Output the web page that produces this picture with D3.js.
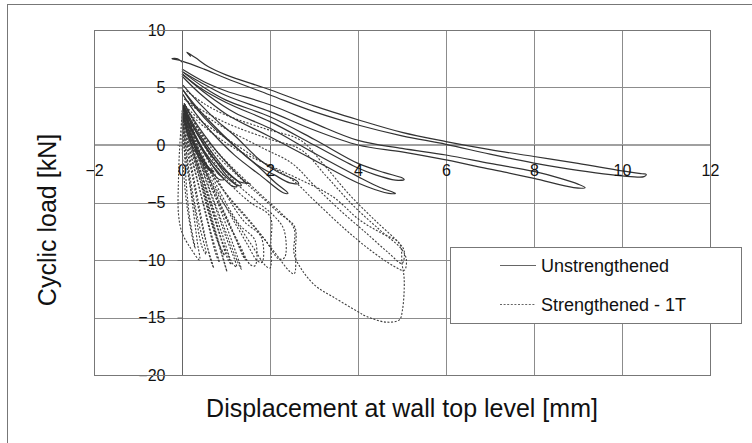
<!DOCTYPE html>
<html>
<head>
<meta charset="utf-8">
<script src="https://cdn.jsdelivr.net/npm/d3@7"></script>
<style>
  html, body { margin: 0; padding: 0; background: #fff; }
  svg { display: block; font-family: "Liberation Sans", Arial, sans-serif; }
</style>
</head>
<body>
<svg id="chart" width="752" height="443"></svg>
<script>
// Axis ticks
const xTicks = [-2, 0, 2, 4, 6, 8, 10, 12];
const yTicks = [-20, -15, -10, -5, 0, 5, 10];
const seriesNames = ["Unstrengthened", "Strengthened - 1T"];
const xTitle = "Displacement at wall top level [mm]";
const yTitle = "Cyclic load [kN]";

// Unstrengthened wall: load cycles, [displacement mm, load kN]
const unstrengthenedCycles = [
  [[0.2,7.7],[0.11,8.06],[0.3,7.6],[0.6,6.8],[1.0,6.1],[2.0,4.8],[3.0,3.4],[4.0,2.2],[5.0,1.1],[6.0,0.3],[7.0,-0.4],[8.0,-1.0],[9.0,-1.6],[10.0,-2.25],[10.45,-2.5],[10.55,-2.55],[10.5,-2.75],[10.2,-2.75],[9.0,-2.2],[8.0,-1.57],[7.0,-0.8],[6.0,0.06],[5.0,0.8],[4.0,1.74],[3.0,2.9],[2.0,4.35],[1.0,5.8],[0.5,6.6],[0.0,7.3],[-0.23,7.5],[-0.1,7.5],[0.0,7.2]],
  [[0.0,6.6],[0.5,5.5],[1.0,4.7],[2.0,3.5],[3.0,1.9],[4.0,0.4],[5.0,-0.3],[6.0,-0.87],[7.0,-1.6],[8.0,-2.3],[8.6,-2.9],[9.0,-3.4],[9.16,-3.7],[8.9,-3.7],[8.0,-2.9],[7.0,-2.1],[6.0,-1.3],[5.0,-0.6],[4.0,0.0],[3.0,1.3],[2.0,2.9],[1.0,4.3],[0.4,5.5],[0.0,6.4]],
  [[0.0,6.4],[0.5,5.0],[1.0,3.9],[2.0,2.46],[3.0,0.5],[4.0,-1.6],[4.6,-2.4],[5.0,-2.85],[5.05,-3.0],[4.85,-3.05],[4.4,-2.6],[4.0,-2.0],[3.0,0.0],[2.0,2.03],[1.0,3.7],[0.4,5.0],[0.0,6.2]],
  [[0.0,6.2],[0.6,4.3],[1.2,2.8],[2.0,1.45],[3.0,-0.7],[4.0,-2.75],[4.5,-3.7],[4.85,-4.2],[4.7,-4.2],[4.0,-3.3],[3.0,-1.3],[2.0,0.72],[1.0,2.7],[0.4,4.5],[0.0,6.0]],
  [[0.02,5.2],[0.4,3.6],[0.8,2.1],[1.2,0.8],[1.77,-1.3],[2.2,-2.4],[2.6,-3.1],[2.65,-3.35],[2.45,-3.3],[2.1,-2.6],[1.77,-1.9],[1.2,-0.1],[0.7,1.6],[0.3,3.3],[0.02,4.8]],
  [[0.02,4.8],[0.4,3.0],[0.9,1.0],[1.4,-0.8],[1.77,-2.0],[2.1,-3.2],[2.41,-4.2],[2.3,-4.15],[1.77,-2.6],[1.2,-0.9],[0.7,1.0],[0.3,2.8],[0.02,4.4]],
  [[0.05,3.6],[0.25,2.3],[0.5,0.9],[0.8,-0.6],[1.1,-1.9],[1.35,-2.9],[1.47,-3.3],[1.55,-3.35],[1.3,-3.2],[1.0,-2.3],[0.7,-1.1],[0.4,0.6],[0.15,2.3],[0.02,3.4]],
  [[0.02,3.5],[0.2,2.2],[0.45,0.6],[0.75,-1.0],[1.05,-2.4],[1.35,-3.5],[1.25,-3.5],[0.95,-2.6],[0.65,-1.3],[0.35,0.4],[0.12,2.1],[0.02,3.3]],
  [[0.02,3.4],[0.2,2.0],[0.45,0.4],[0.75,-1.3],[1.0,-2.6],[1.25,-3.6],[1.15,-3.6],[0.85,-2.5],[0.55,-1.0],[0.3,0.7],[0.1,2.2],[0.02,3.2]],
  [[0.02,3.2],[0.15,2.0],[0.35,0.5],[0.6,-1.2],[0.8,-2.4],[0.95,-3.0],[0.85,-3.0],[0.6,-2.0],[0.35,-0.6],[0.15,1.0],[0.02,2.6]],
  [[0.02,2.8],[0.12,1.6],[0.28,0.2],[0.45,-1.0],[0.62,-2.0],[0.72,-2.3],[0.62,-2.2],[0.45,-1.4],[0.25,-0.2],[0.1,1.2],[0.02,2.5]]
];

// Strengthened wall (1T): load cycles, [displacement mm, load kN]
const strengthenedCycles = [
  [[0.0,2.5],[-0.05,0.0],[-0.08,-3.0],[-0.08,-6.0],[0.0,-7.6],[0.2,-9.0],[0.4,-10.0],[0.35,-8.5],[0.25,-5.5],[0.15,-2.5],[0.05,0.5],[0.0,2.5]],
  [[0.02,3.0],[0.05,0.0],[0.1,-3.5],[0.18,-6.5],[0.3,-9.0],[0.25,-8.3],[0.12,-5.5],[0.04,-2.5],[0.0,0.5],[0.02,3.0]],
  [[0.0,2.8],[0.08,0.0],[0.2,-3.2],[0.35,-6.3],[0.55,-9.5],[0.45,-8.8],[0.3,-5.8],[0.15,-2.8],[0.03,0.3],[0.0,2.8]],
  [[0.0,3.0],[0.1,0.0],[0.25,-3.0],[0.4,-6.0],[0.55,-8.5],[0.72,-10.7],[0.65,-10.0],[0.5,-7.5],[0.35,-4.5],[0.2,-1.5],[0.05,1.5],[0.0,3.0]],
  [[0.02,3.1],[0.15,0.2],[0.35,-3.0],[0.55,-6.0],[0.7,-8.2],[0.85,-10.2],[0.78,-9.6],[0.6,-7.0],[0.42,-4.2],[0.22,-1.2],[0.05,1.6],[0.02,3.1]],
  [[0.05,3.3],[0.2,0.3],[0.4,-2.9],[0.6,-5.9],[0.8,-8.3],[0.97,-9.6],[0.9,-9.2],[0.7,-6.9],[0.48,-4.0],[0.25,-1.0],[0.08,1.8],[0.05,3.3]],
  [[0.05,3.2],[0.2,0.5],[0.4,-2.5],[0.6,-5.5],[0.8,-8.2],[1.02,-11.0],[0.95,-10.0],[0.75,-7.3],[0.55,-4.5],[0.3,-1.3],[0.1,1.5],[0.05,3.2]],
  [[0.05,3.3],[0.25,0.4],[0.45,-2.6],[0.7,-5.6],[0.9,-8.2],[1.12,-10.4],[1.05,-10.0],[0.82,-7.4],[0.6,-4.7],[0.35,-1.7],[0.12,1.3],[0.05,3.3]],
  [[0.05,3.3],[0.25,0.5],[0.5,-2.6],[0.75,-5.3],[1.0,-8.0],[1.24,-10.6],[1.15,-10.3],[0.9,-7.6],[0.65,-4.8],[0.4,-2.0],[0.15,1.0],[0.05,3.3]],
  [[0.05,3.4],[0.3,0.4],[0.55,-2.5],[0.85,-5.4],[1.1,-8.0],[1.35,-10.8],[1.28,-10.3],[1.0,-7.6],[0.72,-4.8],[0.45,-1.9],[0.18,1.1],[0.05,3.4]],
  [[0.05,3.4],[0.3,0.6],[0.55,-2.3],[0.85,-5.0],[1.15,-7.6],[1.45,-10.0],[1.38,-9.6],[1.1,-7.0],[0.8,-4.5],[0.5,-1.8],[0.2,1.0],[0.05,3.4]],
  [[0.05,3.5],[0.3,0.8],[0.6,-2.0],[0.95,-4.7],[1.3,-6.9],[1.66,-8.3],[1.66,-10.5],[1.55,-10.4],[1.3,-8.6],[1.0,-6.4],[0.7,-4.0],[0.4,-1.2],[0.15,1.6],[0.05,3.5]],
  [[0.05,3.5],[0.3,0.9],[0.65,-1.8],[1.0,-4.3],[1.4,-6.6],[1.8,-8.0],[1.82,-10.2],[1.72,-10.1],[1.45,-8.4],[1.1,-6.1],[0.75,-3.6],[0.42,-1.0],[0.15,1.8],[0.05,3.5]],
  [[0.05,3.5],[0.35,1.0],[0.7,-1.3],[1.1,-3.4],[1.55,-5.0],[2.0,-6.2],[2.02,-8.5],[2.0,-10.7],[1.9,-10.5],[1.6,-8.8],[1.2,-6.5],[0.8,-4.2],[0.45,-1.6],[0.15,1.3],[0.05,3.5]],
  [[0.05,3.6],[0.4,1.1],[0.75,-1.1],[1.2,-3.2],[1.7,-4.9],[2.1,-6.2],[2.32,-7.4],[2.33,-9.8],[2.2,-9.9],[1.9,-8.3],[1.5,-6.4],[1.0,-4.2],[0.6,-2.0],[0.25,0.8],[0.05,3.6]],
  [[0.05,3.6],[0.4,1.2],[0.8,-0.9],[1.3,-2.8],[1.8,-4.5],[2.2,-5.9],[2.56,-7.1],[2.58,-9.0],[2.55,-11.2],[2.45,-11.0],[2.1,-9.3],[1.7,-7.4],[1.2,-5.2],[0.8,-3.2],[0.4,-0.8],[0.1,2.0],[0.05,3.6]],
  [[0.1,4.7],[0.5,3.6],[1.0,2.6],[1.9,1.4],[2.7,0.4],[3.2,-1.6],[3.8,-4.3],[4.4,-6.6],[4.94,-8.55],[5.05,-9.2],[5.0,-10.3],[4.7,-9.4],[4.2,-7.7],[3.6,-5.7],[3.0,-3.5],[2.5,-1.6],[1.8,-0.2],[1.0,1.4],[0.4,2.9],[0.05,4.0]],
  [[0.05,4.0],[0.6,2.7],[1.2,1.6],[2.0,0.5],[2.7,-0.4],[3.3,-2.8],[3.9,-5.3],[4.5,-7.4],[5.0,-9.1],[5.1,-10.0],[5.05,-10.9],[4.8,-10.5],[4.3,-9.2],[3.7,-7.3],[3.0,-4.8],[2.5,-3.0],[1.8,-1.4],[1.0,0.6],[0.4,2.2],[0.05,3.5]],
  [[0.05,3.6],[0.45,1.0],[0.9,-1.0],[1.4,-2.9],[1.9,-4.7],[2.3,-6.1],[2.55,-7.3],[2.55,-9.5],[2.75,-11.0],[3.05,-12.3],[3.43,-13.2],[4.0,-14.5],[4.19,-14.9],[4.64,-15.4],[4.94,-15.2],[5.01,-14.35],[5.05,-11.7],[5.0,-10.3],[4.94,-8.55],[4.5,-7.6],[4.03,-6.5],[3.43,-4.5],[2.68,-3.0],[2.0,-1.8],[1.2,-0.3],[0.5,1.6],[0.05,3.2]]
];

const W = 752, H = 443;
const svg = d3.select("#chart");

// Outer chart frame
svg.append("rect")
  .attr("x", 7.5).attr("y", 4.5)
  .attr("width", W).attr("height", H)
  .attr("fill", "none").attr("stroke", "#777").attr("stroke-width", 1);

const x = d3.scaleLinear().domain([-2, 12]).range([94, 710]);
const y = d3.scaleLinear().domain([-20, 10]).range([375, 30]);

// Grid
const grid = svg.append("g").attr("stroke", "#8c8c8c").attr("stroke-width", 1);
grid.selectAll("line.vx").data(xTicks).join("line")
  .attr("x1", d => Math.round(x(d)) + 0.5).attr("x2", d => Math.round(x(d)) + 0.5)
  .attr("y1", y(10)).attr("y2", y(-20));
grid.selectAll("line.hy").data(yTicks.filter(d => d !== 0)).join("line")
  .attr("x1", x(-2)).attr("x2", x(12))
  .attr("y1", d => Math.round(y(d)) + 0.5).attr("y2", d => Math.round(y(d)) + 0.5);

// Zero load line
svg.append("line")
  .attr("x1", x(-2)).attr("x2", x(12))
  .attr("y1", y(0)).attr("y2", y(0))
  .attr("stroke", "#a0a0a0").attr("stroke-width", 2);

// Series
const line = d3.line()
  .x(d => x(d[0]))
  .y(d => y(d[1]))
  .curve(d3.curveCatmullRom.alpha(0.5));

svg.append("g").selectAll("path").data(strengthenedCycles).join("path")
  .attr("d", line)
  .attr("fill", "none").attr("stroke", "#3c3c3c")
  .attr("stroke-width", 1.1).attr("stroke-dasharray", "2,1.6");

svg.append("g").selectAll("path").data(unstrengthenedCycles).join("path")
  .attr("d", line)
  .attr("fill", "none").attr("stroke", "#333")
  .attr("stroke-width", 1.2);

// Axes crossing at the origin
const xAxis = svg.append("g")
  .attr("transform", `translate(0,${y(0)})`)
  .call(d3.axisBottom(x).tickValues(xTicks).tickSize(5).tickFormat(d3.format("d")));
const yAxis = svg.append("g")
  .attr("transform", `translate(${Math.round(x(0)) + 0.5},0)`)
  .call(d3.axisLeft(y).tickValues(yTicks).tickSize(5).tickPadding(12).tickFormat(d3.format("d")));

[xAxis, yAxis].forEach(g => {
  g.attr("font-family", null).attr("font-size", null);
  g.select(".domain").remove();
  g.selectAll(".tick line").attr("stroke", "#666");
  g.selectAll(".tick text").attr("fill", "#111").style("font-size", "16px");
});
xAxis.selectAll(".tick text").attr("y", 31).attr("dy", null);

// Vertical axis line at zero displacement
svg.append("line")
  .attr("x1", Math.round(x(0)) + 0.5).attr("x2", Math.round(x(0)) + 0.5)
  .attr("y1", y(10)).attr("y2", y(-20))
  .attr("stroke", "#666").attr("stroke-width", 1);

// Plot border
svg.append("rect")
  .attr("x", x(-2) + 0.5).attr("y", y(10) + 0.5)
  .attr("width", x(12) - x(-2)).attr("height", y(-20) - y(10))
  .attr("fill", "none").attr("stroke", "#777");

// Axis titles
svg.append("text")
  .attr("x", 402).attr("y", 417)
  .attr("text-anchor", "middle")
  .style("font-size", "25px").attr("fill", "#111")
  .text(xTitle);
svg.append("text")
  .attr("transform", "translate(56,220) rotate(-90)")
  .attr("text-anchor", "middle")
  .style("font-size", "25px").attr("fill", "#111")
  .text(yTitle);

// Legend
const legend = svg.append("g");
legend.append("rect")
  .attr("x", 450.5).attr("y", 247.5).attr("width", 291).attr("height", 76)
  .attr("fill", "#fff").attr("stroke", "#777");
const legendRows = [
  { name: seriesNames[0], dash: null, y: 265 },
  { name: seriesNames[1], dash: "2,1.6", y: 304 }
];
const rows = legend.selectAll("g.row").data(legendRows).join("g");
rows.append("line")
  .attr("x1", 500).attr("x2", 536)
  .attr("y1", d => d.y + 0.5).attr("y2", d => d.y + 0.5)
  .attr("stroke", "#666").attr("stroke-width", 1)
  .attr("stroke-dasharray", d => d.dash);
rows.append("text")
  .attr("x", 541).attr("y", d => d.y + 7)
  .style("font-size", "18px").attr("fill", "#111")
  .text(d => d.name);
</script>
</body>
</html>
